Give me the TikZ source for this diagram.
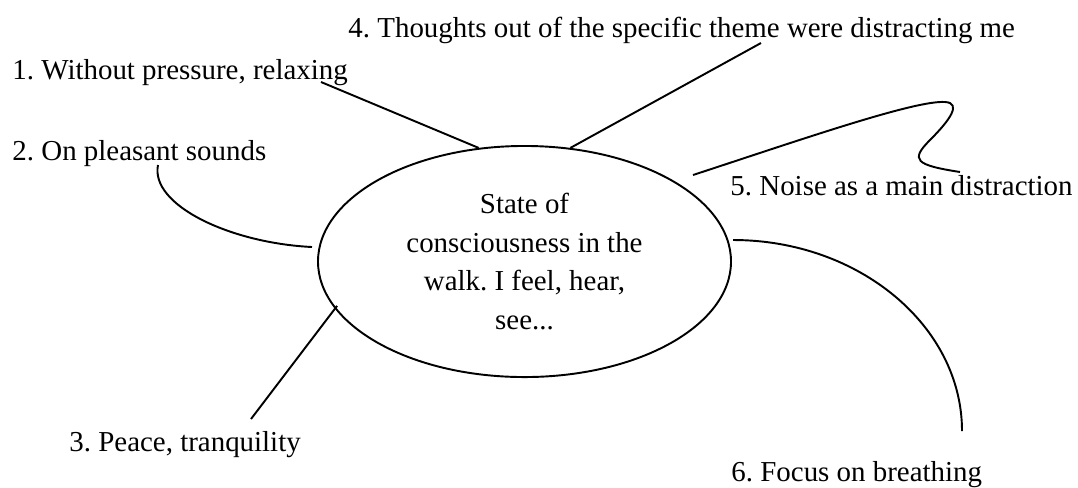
\documentclass[tikz,border=0pt]{standalone}
\usepackage{fontspec}
\setmainfont{Liberation Serif}
\usetikzlibrary{shapes}
\frenchspacing
\tikzset{%
lbl/.style={inner sep=0pt, anchor=base west, font=\fontsize{12}{14}\selectfont},
bubble/.style={draw, line width=0.8pt, shape=ellipse, inner sep=0pt,
  minimum width=171.4pt, minimum height=95.9pt, align=center,
  font=\fontsize{12}{16.1}\selectfont},
link/.style={line width=0.8pt},
}

\begin{document}
\begin{tikzpicture}[x=0.415pt,y=-0.415pt]
 \useasboundingbox (0,0) rectangle (1078,487);
 \node[bubble] (state) at (524.5,261.5) {State of\\consciousness in the\\walk. I feel, hear,\\see...};
 \node[lbl] (t1) at (12,79) {1. Without pressure, relaxing};
 \node[lbl] (t2) at (12,160) {2. On pleasant sounds};
 \node[lbl] (t3) at (69,451) {3. Peace, tranquility};
 \node[lbl] (t4) at (348,37) {4. Thoughts out of the specific theme were distracting me};
 \node[lbl] (t5) at (730,195) {5. Noise as a main distraction};
 \node[lbl] (t6) at (731,481) {6. Focus on breathing};
 % loose ends of the connectors
 \coordinate (c1) at (321,82);
 \coordinate (c2) at (158,165);
 \coordinate (c2e) at (312,247);
 \coordinate (c3) at (251,419);
 \coordinate (c4) at (761,43);
 \coordinate (c5a) at (693,175);
 \coordinate (c5) at (960,172);
 \coordinate (c6a) at (733,240);
 \coordinate (c6) at (962,431);
 \draw[link] (c1) -- (state.112);
 \draw[link] (c2) .. controls (150,205) and (230,243) .. (c2e);
 \draw[link,shorten <=-1.5pt] (state.-166) -- (c3);
 \draw[link] (state.68) -- (c4);
 \draw[link] (c5a) .. controls (800,140) and (915,100) .. (945,102)
   .. controls (962,103) and (950,120) .. (930,140)
   .. controls (910,160) and (915,165) .. (c5);
 \draw[link] (c6a) .. controls (859,240) and (962,326) .. (c6);
\end{tikzpicture}
\end{document}
